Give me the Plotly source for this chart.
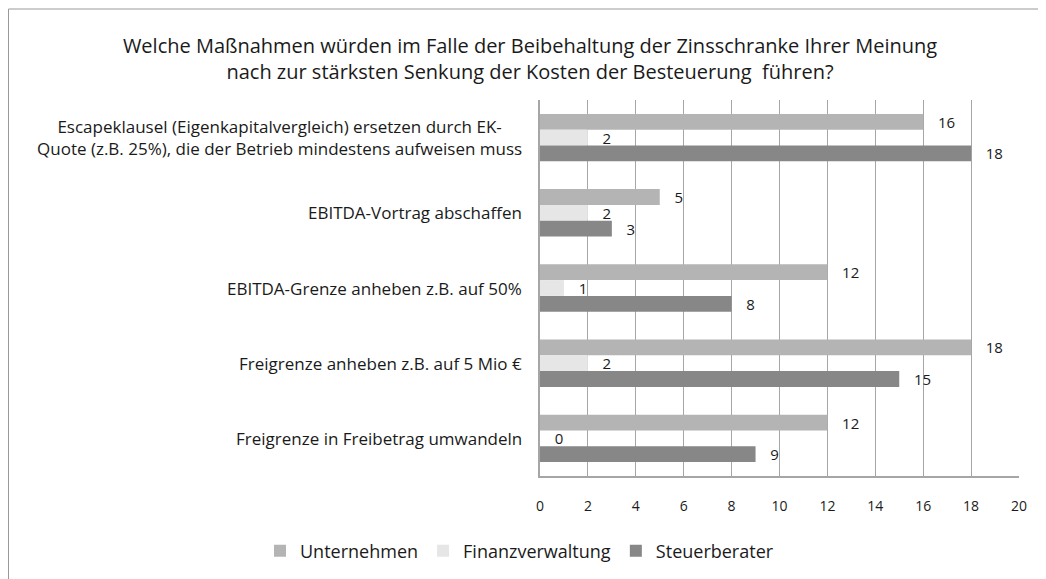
import plotly.graph_objects as go

categories = [
    "Escapeklausel (Eigenkapitalvergleich) ersetzen durch EK-<br>Quote (z.B. 25%), die der Betrieb mindestens aufweisen muss",
    "EBITDA-Vortrag abschaffen",
    "EBITDA-Grenze anheben z.B. auf 50%",
    "Freigrenze anheben z.B. auf 5 Mio €",
    "Freigrenze in Freibetrag umwandeln",
]
unternehmen = [16, 5, 12, 18, 12]
finanzverwaltung = [2, 2, 1, 2, 0]
steuerberater = [18, 3, 8, 15, 9]
series_names = ["Unternehmen", "Finanzverwaltung", "Steuerberater"]
colors = ["#b4b4b4", "#e6e6e6", "#878787"]
tick_vals = list(range(0, 21, 2))

FONT = "Open Sans"
TXT = "#1a1a1a"
W, H = 1038, 571  # page body has 8px default margin inside the 1046x579 window
L, R, T, B = 532, 27, 92, 103
PW, PH = W - L - R, H - T - B

fig = go.Figure()
for name, vals, col in zip(series_names, [unternehmen, finanzverwaltung, steuerberater], colors):
    fig.add_trace(go.Bar(
        y=categories, x=vals, name=name, orientation="h",
        marker=dict(color=col, line=dict(width=0)),
        text=vals, texttemplate="   %{x}", textposition="outside",
        constraintext="none",
        textfont=dict(family=FONT, size=15, color=TXT),
        cliponaxis=False,
    ))

for c in categories:
    fig.add_annotation(x=-16 / PW, xref="paper", y=c, yref="y", text=c,
                       showarrow=False, xanchor="right", yanchor="middle",
                       align="center", font=dict(family=FONT, size=17, color=TXT))

fig.update_layout(
    width=W, height=H,
    barmode="group", bargap=0.37, bargroupgap=0,
    plot_bgcolor="white", paper_bgcolor="white",
    margin=dict(l=L, r=R, t=T, b=B, autoexpand=False),
    title=dict(text="Welche Maßnahmen würden im Falle der Beibehaltung der Zinsschranke Ihrer Meinung<br>nach zur stärksten Senkung der Kosten der Besteuerung  führen?",
               x=522 / W, xanchor="center", y=1 - 45 / H, yanchor="middle",
               font=dict(family=FONT, size=20, color=TXT)),
    font=dict(family=FONT, color=TXT),
    legend=dict(orientation="h", x=(252 - L) / PW, xanchor="left",
                y=(H - B - 543) / PH, yanchor="middle",
                font=dict(family=FONT, size=18, color=TXT), traceorder="normal",
                itemwidth=30),
    showlegend=True,
)
fig.update_xaxes(range=[0, 20], tickvals=tick_vals, showgrid=True, gridcolor="#a6a6a6",
                 gridwidth=1, showline=True, linecolor="#a6a6a6", linewidth=1.5,
                 zeroline=False, ticks="", ticklabelstandoff=16,
                 tickfont=dict(family=FONT, size=14, color=TXT))
fig.update_yaxes(autorange="reversed", showticklabels=False, showline=True,
                 linecolor="#a6a6a6", linewidth=1.5, ticks="")
fig.add_shape(type="rect", xref="paper", yref="paper",
              x0=(0.5 - L) / PW, x1=(W + 30 - L) / PW,
              y0=-(B + 30) / PH, y1=(H - B - 1) / PH,
              line=dict(color="#999", width=1), fillcolor="rgba(0,0,0,0)", layer="below")
fig.write_html("out.html")
